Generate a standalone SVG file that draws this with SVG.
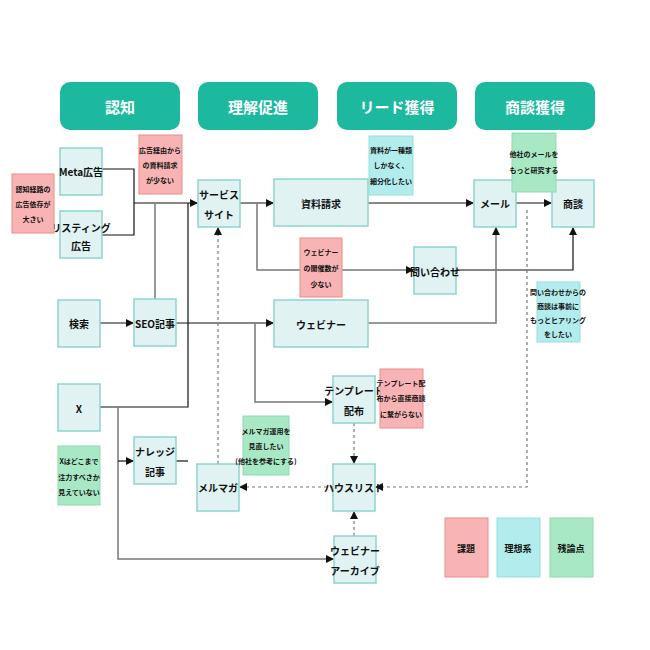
<svg xmlns="http://www.w3.org/2000/svg" width="650" height="650" viewBox="0 0 650 650">
<defs>
<marker id="a" markerWidth="8" markerHeight="8" refX="7" refY="4" orient="auto" markerUnits="userSpaceOnUse"><path d="M0,0 L8,4 L0,8 z" fill="#111"/></marker>
<style>
text{font-family:"Noto Sans CJK JP","Noto Sans",sans-serif;text-anchor:middle;dominant-baseline:central;fill:#111;font-weight:bold}
.h rect{fill:#1cb99f}
.h text{fill:#fff;font-size:15px}
.n rect{fill:#e0f2f1;stroke:#8ed3cf;stroke-width:1.5}
.n text{font-size:10px}
.p rect{fill:#f8b4b4;stroke:#ec8a8a}
.c rect{fill:#b2ecec;stroke:#99dddd}
.g rect{fill:#a8e8c4;stroke:#92dab0}
.s text{font-size:7px}
.l{fill:none;stroke:#111;stroke-width:1.2}
.gr{fill:none;stroke:#777;stroke-width:1.5}
.d{fill:none;stroke:#777;stroke-width:1.2;stroke-dasharray:3,3}
</style>
</defs>
<g id="headers" class="h">
<rect x="60" y="82" width="120" height="48" rx="10"/><text x="120" y="106">認知</text>
<rect x="198" y="82" width="120" height="48" rx="10"/><text x="258" y="106">理解促進</text>
<rect x="337" y="82" width="120" height="48" rx="10"/><text x="397" y="106">リード獲得</text>
<rect x="475" y="82" width="120" height="48" rx="10"/><text x="535" y="106">商談獲得</text>
</g>
<g id="connectors">
<path class="l" d="M102,169 H134 V235 H102"/>
<path class="l" d="M134,203 H197" marker-end="url(#a)"/>
<path class="gr" d="M155,299 V203"/>
<path class="l" d="M100,407 H188 V203"/>
<path class="l" d="M176,461 H188"/>
<path class="l" d="M100,323 H133" marker-end="url(#a)"/>
<path class="l" d="M176,323 H273" marker-end="url(#a)"/>
<path class="gr" d="M255,323 V402 H332" marker-end="url(#a)"/>
<path class="gr" d="M118,407 V559 H333" marker-end="url(#a)"/>
<path class="l" d="M118,461 H133" marker-end="url(#a)"/>
<path class="l" d="M240,203 H273" marker-end="url(#a)"/>
<path class="gr" d="M257,203 V270 H413" marker-end="url(#a)"/>
<path class="l" d="M368,203 H473" marker-end="url(#a)"/>
<path class="l" d="M516,203 H551" marker-end="url(#a)"/>
<path class="l" d="M456,270 H573 V228" marker-end="url(#a)"/>
<path class="gr" d="M368,323 H496 V228" marker-end="url(#a)"/>
<path class="d" d="M218,464 V228" marker-end="url(#a)"/>
<path class="d" d="M354,423 V463" marker-end="url(#a)"/>
<path class="d" d="M354,536 V512" marker-end="url(#a)"/>
<path class="d" d="M333,487 H240" marker-end="url(#a)"/>
<path class="d" d="M527,210 V487 H376" marker-end="url(#a)"/>
</g>
<g id="meta" class="n"><rect x="60" y="148" width="42" height="47"/><text x="81" y="171">Meta広告</text></g>
<g id="listing" class="n"><rect x="60" y="211" width="42" height="47"/><text x="81" y="227">リスティング</text><text x="81" y="245">広告</text></g>
<g id="search" class="n"><rect x="58" y="300" width="42" height="47"/><text x="79" y="323">検索</text></g>
<g id="seo" class="n"><rect x="134" y="299" width="42" height="47"/><text x="155" y="323">SEO記事</text></g>
<g id="x" class="n"><rect x="58" y="384" width="42" height="47"/><text x="79" y="408">X</text></g>
<g id="knowledge" class="n"><rect x="134" y="437" width="42" height="47"/><text x="155" y="451">ナレッジ</text><text x="155" y="471">記事</text></g>
<g id="service" class="n"><rect x="198" y="180" width="42" height="47"/><text x="219" y="194">サービス</text><text x="219" y="214">サイト</text></g>
<g id="shiryo" class="n"><rect x="274" y="179" width="94" height="47"/><text x="321" y="203">資料請求</text></g>
<g id="webinar" class="n"><rect x="274" y="300" width="94" height="47"/><text x="321" y="324">ウェビナー</text></g>
<g id="inquiry" class="n"><rect x="414" y="247" width="42" height="47"/><text x="435" y="271">問い合わせ</text></g>
<g id="mail" class="n"><rect x="474" y="180" width="42" height="47"/><text x="495" y="203">メール</text></g>
<g id="shodan" class="n"><rect x="552" y="180" width="42" height="47"/><text x="573" y="203">商談</text></g>
<g id="template" class="n"><rect x="333" y="376" width="42" height="47"/><text x="354" y="390">テンプレート</text><text x="354" y="410">配布</text></g>
<g id="houselist" class="n"><rect x="333" y="464" width="42" height="47"/><text x="354" y="487">ハウスリスト</text></g>
<g id="melmaga" class="n"><rect x="197" y="464" width="42" height="47"/><text x="218" y="487">メルマガ</text></g>
<g id="archive" class="n"><rect x="334" y="536" width="42" height="47"/><text x="355" y="550">ウェビナー</text><text x="355" y="570">アーカイブ</text></g>
<g id="note1" class="p s"><rect x="12" y="174" width="42" height="59"/><text x="33" y="189">認知経路の</text><text x="33" y="204">広告依存が</text><text x="33" y="219">大きい</text></g>
<g id="note2" class="p s"><rect x="139" y="135" width="43" height="59"/><text x="160" y="150">広告経由から</text><text x="160" y="165">の資料請求</text><text x="160" y="180">が少ない</text></g>
<g id="note3" class="p s"><rect x="300" y="238" width="42" height="59"/><text x="321" y="252">ウェビナー</text><text x="321" y="268">の開催数が</text><text x="321" y="284">少ない</text></g>
<g id="note4" class="c s"><rect x="369" y="136" width="44" height="59"/><text x="391" y="150">資料が一種類</text><text x="391" y="165">しかなく、</text><text x="391" y="181">細分化したい</text></g>
<g id="note5" class="g s"><rect x="512" y="133" width="44" height="59"/><text x="534" y="154">他社のメールを</text><text x="534" y="170">もっと研究する</text></g>
<g id="note6" class="c s"><rect x="537" y="282" width="43" height="60"/><text x="558" y="292">問い合わせからの</text><text x="558" y="306">商談は事前に</text><text x="558" y="320">もっとヒアリング</text><text x="558" y="334">をしたい</text></g>
<g id="note7" class="p s"><rect x="380" y="369" width="43" height="59"/><text x="401" y="383">テンプレート配</text><text x="401" y="398">布から直接商談</text><text x="401" y="414">に繋がらない</text></g>
<g id="note8" class="g s"><rect x="243" y="416" width="46" height="59"/><text x="266" y="431">メルマガ運用を</text><text x="266" y="446">見直したい</text><text x="266" y="461">(他社を参考にする)</text></g>
<g id="note9" class="g s"><rect x="58" y="446" width="42" height="59"/><text x="79" y="461">Xはどこまで</text><text x="79" y="477">注力すべきか</text><text x="79" y="492">見えていない</text></g>
<g id="legend" class="s">
<g class="p"><rect x="445" y="518" width="43" height="59"/><text x="466" y="548" style="font-size:9px">課題</text></g>
<g class="c"><rect x="497" y="518" width="43" height="59"/><text x="518" y="548" style="font-size:9px">理想系</text></g>
<g class="g"><rect x="550" y="518" width="43" height="59"/><text x="571" y="548" style="font-size:9px">残論点</text></g>
</g>
</svg>
